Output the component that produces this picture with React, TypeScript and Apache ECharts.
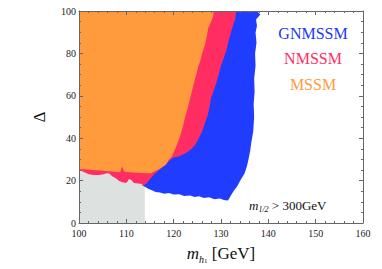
import React, { useEffect, useRef } from "react";
import * as echarts from "echarts";

// x-axis: m_h1 [GeV], y-axis: Delta
const xRange = [100, 160];
const yRange = [0, 100];
const xTickStep = 10;
const yTickStep = 20;

// LEP-excluded grey region
const greyRegion: number[][] = [
  [100, 0], [113.9, 0], [113.9, 26], [100, 26],
];

// GNMSSM (blue) outer boundary
const blueRegion: number[][] = [
  [100, 100], [137.6, 100], [138.3, 98.3], [137.4, 96], [137.6, 93], [137.3, 89.9],
  [137.5, 85], [137.2, 80], [137.3, 74], [137.0, 68], [137.1, 62], [136.9, 56],
  [137.0, 50], [136.8, 43], [136.4, 38], [136.2, 34.5], [135.8, 30], [135.5, 27],
  [135.0, 23.5], [134.1, 20.2], [133.4, 17.2], [132.6, 14.8], [132.0, 12.6], [131.5, 10.6],
  [130.6, 10.9], [129.8, 11.5], [128.6, 11.2], [127.5, 12.1], [126.4, 11.8], [125.4, 12.6],
  [124.4, 12.3], [123.5, 13.0], [122.2, 12.7], [121.2, 13.6], [120.0, 13.4], [119.0, 14.1],
  [118.0, 13.8], [117.1, 14.4], [116.2, 14.6], [115.4, 15.5], [114.6, 16.1], [114.2, 16.8],
  [113.5, 17.6], [112.5, 30], [100, 30],
];

// NMSSM (red) outer boundary
const redRegion: number[][] = [
  [100, 100], [133.2, 100], [133.0, 96], [132.5, 93], [132.1, 89.9], [131.6, 86],
  [131.2, 82], [130.6, 78], [130.0, 74.2], [129.5, 70], [129.0, 66], [128.4, 62],
  [127.9, 59], [127.6, 55], [127.2, 51], [126.6, 47], [126.0, 43], [125.3, 40],
  [124.6, 37], [123.8, 35], [122.6, 33], [121.2, 31.5], [119.8, 30.8], [118, 27],
  [116, 23.2], [115.2, 21.2], [114.3, 18.8], [113.5, 17.5], [113.3, 18.4], [112.5, 18.6],
  [111.6, 18.9], [111.1, 20.2], [110.6, 20.7], [110.2, 19.5], [109.9, 18.9], [109.2, 19.2],
  [108.5, 19.8], [107.7, 21.2], [107, 22.1], [106.4, 23.3], [105.9, 23.5], [105.2, 23.0],
  [104.2, 22.6], [103.1, 22.6], [102.1, 23], [101, 24], [100, 25.2],
];

// MSSM (orange) outer boundary
const orangeRegion: number[][] = [
  [100, 100], [128.5, 100], [128.3, 97], [127.8, 94.5], [127.3, 92], [127.0, 88],
  [126.6, 84], [126.0, 80], [125.7, 77], [125.2, 74], [124.9, 71], [124.5, 68],
  [124.0, 63.5], [123.5, 59], [123.0, 54.5], [122.4, 49.8], [121.9, 45], [121.3, 40.6],
  [120.5, 35.9], [119.6, 31.3], [119.0, 30], [118.4, 27.6], [116.9, 25.3], [115.2, 23.5],
  [114.2, 23.5], [111.5, 23.8], [110.0, 24.0], [109.5, 24.4], [109.1, 26.7], [108.7, 23.9],
  [106.3, 24.4], [103, 25], [100, 25.5],
];

const legendLabels = ["GNMSSM", "NMSSM", "MSSM"];
const legendColors = ["#2236f5", "#ff2d62", "#ff9b3d"];
const fillColors = { grey: "#dde2e1", blue: "#1f3cff", red: "#ff2d62", orange: "#ff9b3d" };

const SERIF = "'Liberation Serif', 'Times New Roman', serif";

function polygonSeries(name: string, points: number[][], color: string, z: number) {
  return {
    type: "custom",
    name,
    coordinateSystem: "cartesian2d",
    xAxisIndex: 0,
    yAxisIndex: 0,
    data: [points[0]],
    z,
    silent: true,
    clip: true,
    renderItem: (_params: any, api: any) => ({
      type: "polygon",
      shape: { points: points.map((p) => api.coord(p)) },
      style: { fill: color, stroke: null },
    }),
  };
}

export default function App() {
  const ref = useRef<HTMLDivElement>(null);
  useEffect(() => {
    if (!ref.current) return;
    document.body.style.margin = "0";
    const chart = echarts.init(ref.current, undefined, { renderer: "svg" });
    const axisColor = "#666";
    const tickLabel = { fontFamily: SERIF, fontSize: 10, color: "#222" };
    const baseX = {
      type: "value",
      min: xRange[0],
      max: xRange[1],
      interval: xTickStep,
      z: 10,
      axisLine: { show: true, onZero: false, lineStyle: { color: axisColor, width: 1 } },
      axisTick: { show: true, inside: true, length: 4, lineStyle: { color: axisColor } },
      minorTick: { show: true, splitNumber: 5, length: 2, lineStyle: { color: axisColor } },
      splitLine: { show: false },
    };
    const baseY = {
      type: "value",
      min: yRange[0],
      max: yRange[1],
      interval: yTickStep,
      z: 10,
      axisLine: { show: true, onZero: false, lineStyle: { color: axisColor, width: 1 } },
      axisTick: { show: true, inside: true, length: 4, lineStyle: { color: axisColor } },
      minorTick: { show: true, splitNumber: 4, length: 2, lineStyle: { color: axisColor } },
      splitLine: { show: false },
    };
    chart.setOption({
      animation: false,
      backgroundColor: "#fff",
      grid: { left: 79, right: 19, top: 11, bottom: 41, containLabel: false },
      xAxis: [
        {
          ...baseX,
          position: "bottom",
          axisLabel: { ...tickLabel, margin: 5 },
          name: "{m|m}{h|h}{o|1}{g| [GeV]}",
          nameLocation: "middle",
          nameGap: 20,
          nameTextStyle: {
            fontFamily: SERIF,
            fontSize: 17,
            color: "#111",
            verticalAlign: "top",
            rich: {
              m: { fontFamily: SERIF, fontSize: 17, fontStyle: "italic", color: "#111", height: 20, verticalAlign: "middle" },
              h: { fontFamily: SERIF, fontSize: 10, fontStyle: "italic", color: "#111", height: 8, verticalAlign: "bottom" },
              o: { fontFamily: SERIF, fontSize: 7, color: "#111", height: 5, verticalAlign: "bottom" },
              g: { fontFamily: SERIF, fontSize: 17, color: "#111", height: 20, verticalAlign: "middle" },
            },
          },
        },
        { ...baseX, position: "top", axisLabel: { show: false } },
      ],
      yAxis: [
        {
          ...baseY,
          position: "left",
          axisLabel: { ...tickLabel, margin: 3 },
          name: "Δ",
          nameLocation: "middle",
          nameRotate: 90,
          nameGap: 31,
          nameTextStyle: { fontFamily: SERIF, fontSize: 17, color: "#111" },
        },
        { ...baseY, position: "right", axisLabel: { show: false } },
      ],
      series: [
        polygonSeries("grey", greyRegion, fillColors.grey, 1),
        polygonSeries("GNMSSM", blueRegion, fillColors.blue, 2),
        polygonSeries("NMSSM", redRegion, fillColors.red, 3),
        polygonSeries("MSSM", orangeRegion, fillColors.orange, 4),
      ],
      graphic: [
        ...legendLabels.map((t, i) => ({
          type: "text",
          x: 313,
          y: 33 + i * 25.5,
          z: 20,
          style: {
            text: t,
            fill: legendColors[i],
            font: `16px ${SERIF}`,
            align: "center",
            verticalAlign: "middle",
            textAlign: "center",
            textVerticalAlign: "middle",
          },
        })),
        {
          type: "text",
          x: 249,
          y: 198,
          z: 20,
          style: {
            text: "{m|m}{s|1/2}{t| > 300GeV}",
            fill: "#111",
            font: `13px ${SERIF}`,
            rich: {
              m: { fontFamily: SERIF, fontSize: 13, fontStyle: "italic", fill: "#111", height: 15, verticalAlign: "middle" },
              s: { fontFamily: SERIF, fontSize: 8, fontStyle: "italic", fill: "#111", height: 7, verticalAlign: "bottom" },
              t: { fontFamily: SERIF, fontSize: 13, fill: "#111", height: 15, verticalAlign: "middle" },
            },
          },
        },
      ],
    });
    return () => chart.dispose();
  }, []);
  return <div ref={ref} style={{ width: 382, height: 269 }} />;
}
